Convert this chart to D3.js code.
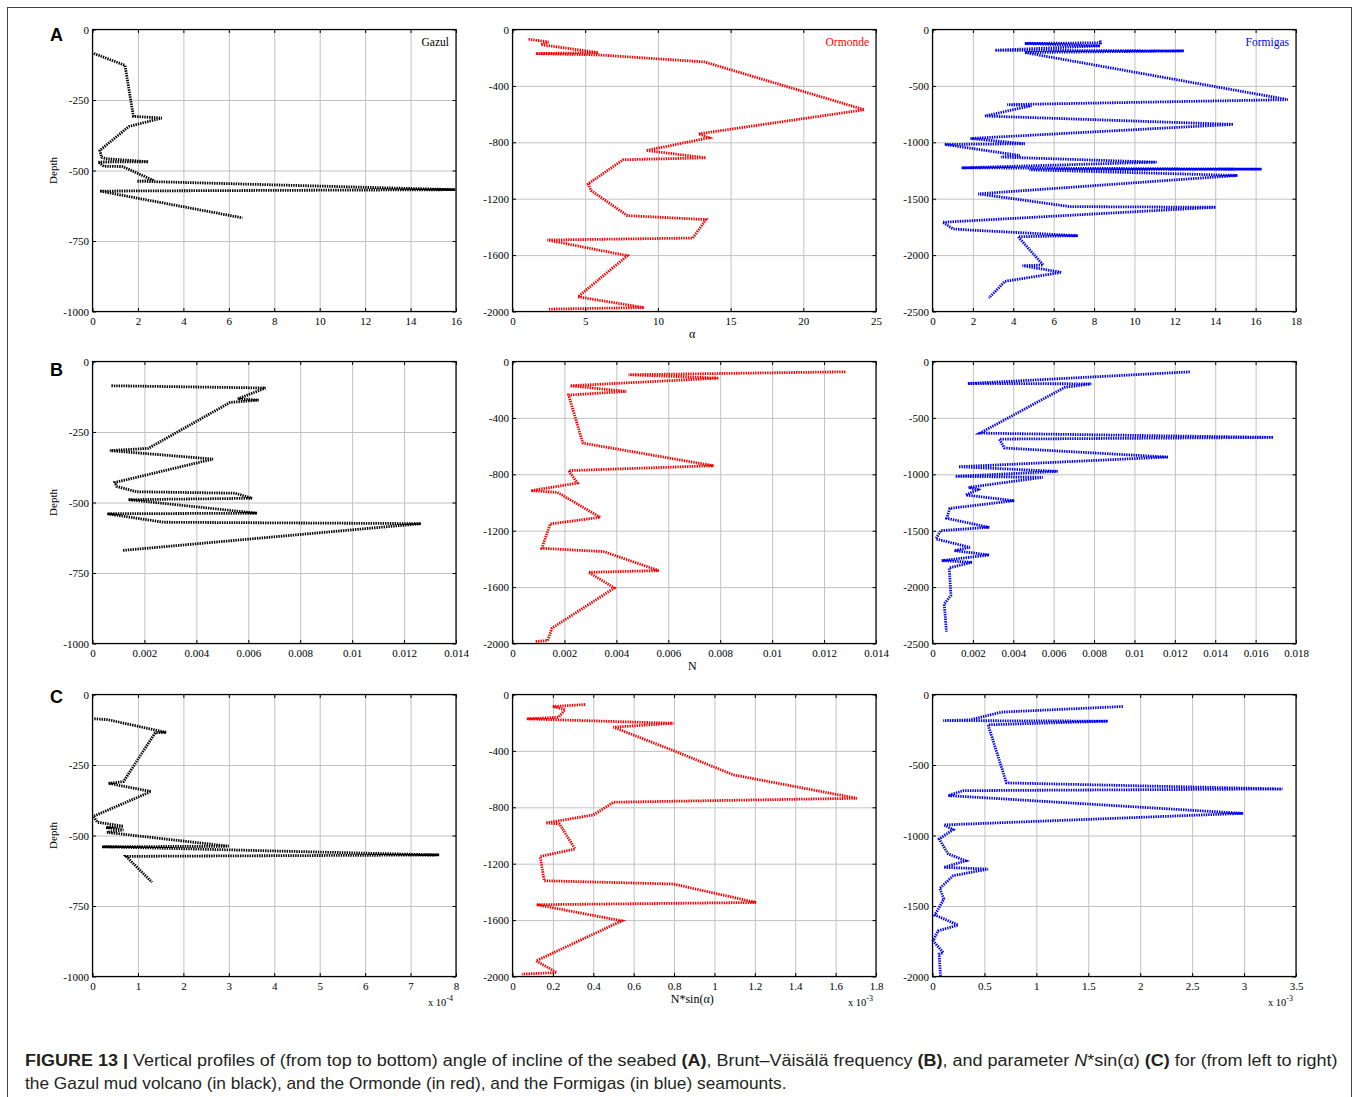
<!DOCTYPE html>
<html>
<head>
<meta charset="utf-8">
<script src="https://cdn.jsdelivr.net/npm/d3@7"></script>
<style>
  html, body { margin: 0; padding: 0; background: #fff; }
  svg { display: block; }
</style>
</head>
<body>
<svg id="chart" width="1360" height="1097"></svg>
<script>
// ---------- DATA (value, depth) ----------
const gazulAlpha = [[0.06,-85],[1.43,-127],[1.8,-308],[3.05,-314],[1.6,-344],[0.32,-429],[0.4,-453],[0.6,-458],[2.46,-469],[0.25,-470],[0.5,-485],[1.33,-486],[2.7,-536],[1.95,-538],[15.97,-568],[0.32,-573],[6.6,-668]];
const ormondeAlpha = [[1.1,-69],[2.47,-88],[1.95,-107],[5.9,-164],[1.6,-171],[5.9,-180],[13.2,-230],[24.2,-569],[12.8,-740],[13.5,-768],[9.2,-858],[13.3,-910],[7.6,-924],[5.2,-1095],[5.4,-1142],[7.9,-1320],[13.3,-1348],[12.4,-1479],[2.4,-1493],[7.9,-1604],[4.5,-1896],[9.05,-1972],[2.5,-1983]];
const formigasAlpha = [[8.3,-97],[8.32,-118],[4.57,-124],[8.3,-145],[3.09,-184],[12.45,-190],[4.57,-204],[17.6,-622],[3.7,-666],[4.9,-675],[2.6,-767],[14.9,-841],[1.88,-966],[4.57,-1013],[0.6,-1019],[4.33,-1117],[3.39,-1131],[11.1,-1176],[1.44,-1226],[16.3,-1238],[4.8,-1244],[15.1,-1294],[2.26,-1457],[6.8,-1570],[14.03,-1576],[0.5,-1709],[1.02,-1768],[1.78,-1777],[7.2,-1828],[4.24,-1837],[5.48,-2088],[4.46,-2094],[6.39,-2153],[3.58,-2233],[2.79,-2381]];

const gazulN = [[0.00073,-86],[0.00666,-94],[0.0056,-132],[0.0064,-137],[0.0053,-145],[0.00215,-308],[0.00067,-316],[0.00464,-346],[0.00086,-429],[0.00093,-443],[0.0017,-462],[0.0055,-467],[0.00614,-485],[0.00138,-490],[0.00634,-538],[0.00057,-540],[0.00273,-570],[0.01265,-575],[0.00116,-670]];
const ormondeN = [[0.01282,-73],[0.00447,-94],[0.00794,-118],[0.00222,-172],[0.00438,-212],[0.00216,-238],[0.00271,-579],[0.00774,-739],[0.00216,-774],[0.0025,-862],[0.00071,-916],[0.00173,-928],[0.00338,-1105],[0.00145,-1152],[0.00113,-1325],[0.00351,-1348],[0.00563,-1483],[0.00293,-1495],[0.00392,-1606],[0.00152,-1891],[0.00135,-1979],[0.00087,-1986]];
const formigasN = [[0.01274,-92],[0.00174,-195],[0.00786,-198],[0.00654,-230],[0.00235,-635],[0.01688,-673],[0.00331,-688],[0.00356,-767],[0.01166,-847],[0.00129,-933],[0.0062,-974],[0.00113,-1018],[0.00546,-1027],[0.00179,-1116],[0.00223,-1136],[0.00165,-1184],[0.00405,-1234],[0.00086,-1302],[0.0007,-1390],[0.00281,-1470],[0.00041,-1499],[0.00017,-1573],[0.00185,-1647],[0.00108,-1677],[0.00281,-1715],[0.00046,-1765],[0.00195,-1780],[0.00083,-1830],[0.00091,-2075],[0.00058,-2149],[0.00069,-2394]];

// N*sin(alpha), in units of the axis multiplier (x 10^-4 / x 10^-3)
const gazulNsin = [[0.04,-86],[0.32,-89],[1.62,-134],[1.38,-136],[0.68,-309],[0.35,-315],[1.29,-344],[0.02,-432],[0.11,-453],[0.68,-467],[0.3,-472],[0.68,-480],[0.32,-489],[3.0,-538],[0.21,-540],[7.63,-569],[0.74,-574],[1.31,-666]];
const ormondeNsin = [[0.36,-71],[0.2,-85],[0.26,-107],[0.228,-161],[0.071,-173],[0.797,-204],[0.5,-232],[0.797,-398],[1.094,-570],[1.705,-736],[0.5,-764],[0.4,-854],[0.165,-911],[0.233,-918],[0.31,-1096],[0.137,-1148],[0.157,-1321],[0.797,-1344],[1.206,-1475],[0.12,-1491],[0.541,-1605],[0.117,-1889],[0.219,-1972],[0.046,-1983]];
const formigasNsin = [[1.833,-85],[0.663,-125],[0.359,-180],[0.103,-185],[1.689,-189],[0.535,-215],[0.712,-627],[3.37,-670],[0.295,-682],[0.151,-717],[2.99,-843],[0.109,-925],[0.199,-958],[0.064,-1025],[0.151,-1131],[0.32,-1179],[0.109,-1226],[0.535,-1238],[0.199,-1285],[0.07,-1375],[0.109,-1451],[0.022,-1564],[0.247,-1635],[0.054,-1676],[0.006,-1747],[0.103,-1830],[0.064,-1841],[0.077,-1995]];

// ---------- TICKS ----------
const depthTicks1000 = [0,-250,-500,-750,-1000];
const depthTicks2000 = [0,-400,-800,-1200,-1600,-2000];
const depthTicks2500 = [0,-500,-1000,-1500,-2000,-2500];
const depthTicks2000b = [0,-500,-1000,-1500,-2000];
const alphaTicks16 = [0,2,4,6,8,10,12,14,16];
const alphaTicks25 = [0,5,10,15,20,25];
const alphaTicks18 = [0,2,4,6,8,10,12,14,16,18];
const nTicks14 = [0,0.002,0.004,0.006,0.008,0.01,0.012,0.014];
const nTicks18 = [0,0.002,0.004,0.006,0.008,0.01,0.012,0.014,0.016,0.018];
const nsinTicks8 = [0,1,2,3,4,5,6,7,8];
const nsinTicks18 = [0,0.2,0.4,0.6,0.8,1,1.2,1.4,1.6,1.8];
const nsinTicks35 = [0,0.5,1,1.5,2,2.5,3,3.5];

const rowLetters = ["A","B","C"];
const xTitles = ["α","N","N*sin(α)"];
const siteNames = ["Gazul","Ormonde","Formigas"];
const siteColors = ["#000000","#ff0000","#0000ff"];
const multipliers = [["","",""],["","",""],["-4","-3","-3"]];

// ---------- PANEL SPECS ----------
const panels = [
  {row:0,col:0,data:gazulAlpha,xt:alphaTicks16,yt:depthTicks1000},
  {row:0,col:1,data:ormondeAlpha,xt:alphaTicks25,yt:depthTicks2000},
  {row:0,col:2,data:formigasAlpha,xt:alphaTicks18,yt:depthTicks2500},
  {row:1,col:0,data:gazulN,xt:nTicks14,yt:depthTicks1000},
  {row:1,col:1,data:ormondeN,xt:nTicks14,yt:depthTicks2000},
  {row:1,col:2,data:formigasN,xt:nTicks18,yt:depthTicks2500},
  {row:2,col:0,data:gazulNsin,xt:nsinTicks8,yt:depthTicks1000},
  {row:2,col:1,data:ormondeNsin,xt:nsinTicks18,yt:depthTicks2000},
  {row:2,col:2,data:formigasNsin,xt:nsinTicks35,yt:depthTicks2000b},
];

const colX = [92.5, 512.5, 932.5];
const rowY = [29.5, 361.5, 694.5];
const PW = 363.5, PH = 282;
const serif = "'Liberation Serif','Times New Roman',serif";
const sans = "'Liberation Sans',Arial,Helvetica,sans-serif";

const svg = d3.select("#chart");

// outer frame
svg.append("rect").attr("x",7.5).attr("y",7.5).attr("width",1344).attr("height",1110)
  .attr("fill","none").attr("stroke","#444").attr("stroke-width",1);

const fmt = v => String(+v.toFixed(6));

panels.forEach(p => {
  const x0 = colX[p.col], y0 = rowY[p.row];
  const xMax = p.xt[p.xt.length-1], yMin = p.yt[p.yt.length-1];
  const x = d3.scaleLinear().domain([0,xMax]).range([x0,x0+PW]);
  const y = d3.scaleLinear().domain([yMin,0]).range([y0+PH,y0]);
  const g = svg.append("g");

  // grid
  const gx = g.append("g").attr("transform",`translate(0,${y0+PH})`)
    .call(d3.axisBottom(x).tickValues(p.xt).tickSize(-PH).tickFormat(""));
  const gy = g.append("g").attr("transform",`translate(${x0},0)`)
    .call(d3.axisLeft(y).tickValues(p.yt).tickSize(-PW).tickFormat(""));
  [gx,gy].forEach(a => { a.select(".domain").remove();
    a.selectAll("line").attr("stroke","#c2c2c2").attr("stroke-width",1); });

  // data line
  const line = d3.line().x(d => x(d[0])).y(d => y(d[1]));
  g.append("path").datum(p.data).attr("d",line)
    .attr("fill","none").attr("stroke",siteColors[p.col])
    .attr("stroke-width",2.8).attr("stroke-dasharray","1.4,1.0")
    .attr("stroke-linejoin","miter");

  // axes with inward ticks
  const tk = 3.5;
  const ab = g.append("g").attr("transform",`translate(0,${y0+PH})`)
    .call(d3.axisBottom(x).tickValues(p.xt).tickSize(-tk).tickPadding(0).tickFormat(fmt));
  const at = g.append("g").attr("transform",`translate(0,${y0})`)
    .call(d3.axisTop(x).tickValues(p.xt).tickSize(-tk).tickFormat(""));
  const al = g.append("g").attr("transform",`translate(${x0},0)`)
    .call(d3.axisLeft(y).tickValues(p.yt).tickSize(-tk).tickPadding(0).tickFormat(fmt));
  const ar = g.append("g").attr("transform",`translate(${x0+PW},0)`)
    .call(d3.axisRight(y).tickValues(p.yt).tickSize(-tk).tickFormat(""));
  [ab,at,al,ar].forEach(a => {
    a.select(".domain").remove();
    a.selectAll("line").attr("stroke","#000").attr("stroke-width",1);
    a.selectAll("text").attr("fill","#000").style("font-family",serif).style("font-size","11px");
  });
  ab.selectAll("text").attr("y",6).attr("dy","0.71em");
  al.selectAll("text").attr("x",-3.5).attr("dy","0.33em");

  // box
  g.append("rect").attr("x",x0).attr("y",y0).attr("width",PW).attr("height",PH)
    .attr("fill","none").attr("stroke","#000").attr("stroke-width",1.2);

  // site label (top row)
  if (p.row === 0) {
    g.append("text").attr("x",x0+PW-7).attr("y",y0+16)
      .attr("text-anchor","end").attr("fill",siteColors[p.col])
      .style("font-family",serif).style("font-size","11.5px").text(siteNames[p.col]);
  }
  // Depth label (first column)
  if (p.col === 0) {
    g.append("text").attr("transform",`translate(${x0-36},${y0+PH/2}) rotate(-90)`)
      .attr("text-anchor","middle").attr("fill","#000")
      .style("font-family",serif).style("font-size","11px").text("Depth");
    g.append("text").attr("x",50).attr("y",y0+ [11,14,8][p.row])
      .attr("fill","#000").style("font-family",sans).style("font-weight","bold")
      .style("font-size","18px").text(rowLetters[p.row]);
  }
  // x title (middle column)
  if (p.col === 1) {
    g.append("text").attr("x",x0+PW/2-2).attr("y",y0+PH+26)
      .attr("text-anchor","middle").attr("fill","#000")
      .style("font-family",serif).style("font-size","12px").text(xTitles[p.row]);
  }
  // multiplier
  const m = multipliers[p.row][p.col];
  if (m) {
    const t = g.append("text").attr("x",x0+PW-3).attr("y",y0+PH+29)
      .attr("text-anchor","end").attr("fill","#000")
      .style("font-family",serif).style("font-size","10.5px");
    t.append("tspan").text("x 10");
    t.append("tspan").attr("dy",-5).style("font-size","8px").text(m);
  }
});

// ---------- CAPTION ----------
const cap = svg.append("g").attr("fill","#231f20").style("font-family",sans).style("font-size","16px");
const l1 = cap.append("text").attr("x",25).attr("y",1066);
[["FIGURE 13 | ","bold",null],["Vertical profiles of (from top to bottom) angle of incline of the seabed ",null,null],
 ["(A)","bold",null],[", Brunt–Väisälä frequency ",null,null],["(B)","bold",null],[", and parameter ",null,null],
 ["N","","italic"],["*sin(α) ",null,null],["(C)","bold",null],[" for (from left to right)",null,null]]
 .forEach(([s,w,st]) => { const t = l1.append("tspan").text(s); if (w) t.style("font-weight",w); if (st) t.style("font-style",st); });
const l2 = cap.append("text").attr("x",25).attr("y",1089)
  .text("the Gazul mud volcano (in black), and the Ormonde (in red), and the Formigas (in blue) seamounts.");
const sx1 = 1313 / l1.node().getComputedTextLength();
const sx2 = 762 / l2.node().getComputedTextLength();
l1.attr("transform",`translate(25,0) scale(${sx1},1) translate(-25,0)`);
l2.attr("transform",`translate(25,0) scale(${sx2},1) translate(-25,0)`);
</script>
</body>
</html>
